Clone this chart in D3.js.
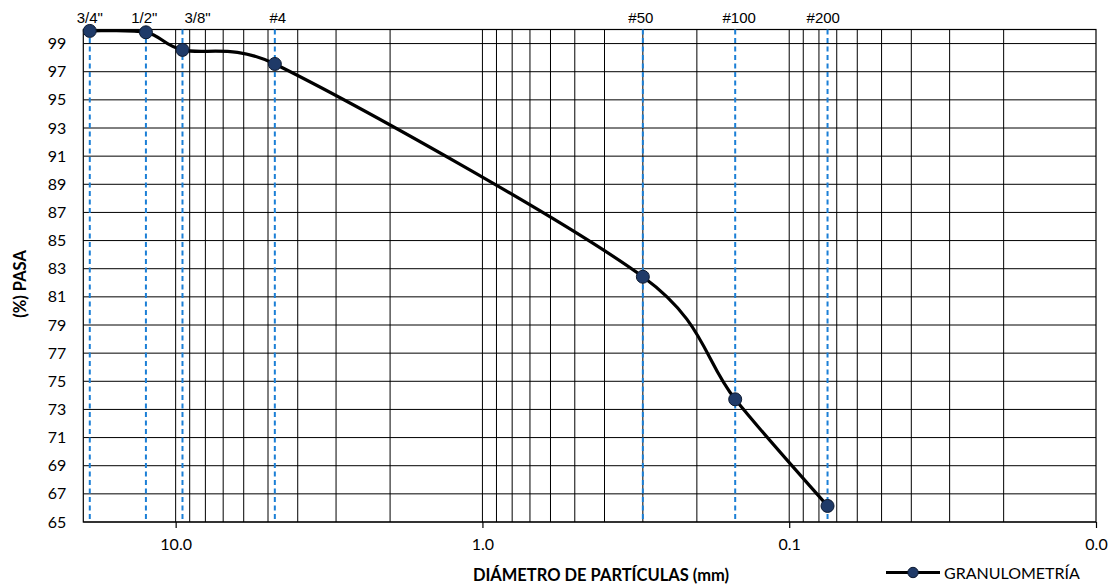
<!DOCTYPE html>
<html>
<head>
<meta charset="utf-8">
<script src="https://cdn.jsdelivr.net/npm/d3@7"></script>
<style>
  html, body { margin: 0; padding: 0; background: #fff; }
  svg { display: block; }
</style>
</head>
<body>
<svg id="chart" width="1116" height="587"></svg>
<script>
// ---- data ----
const sieves = ['3/4"', '1/2"', '3/8"', '#4', '#50', '#100', '#200'];
const diameters = [19.05, 12.5, 9.5, 4.75, 0.3, 0.15, 0.075];
const passing = [99.9, 99.8, 98.55, 97.55, 82.43, 73.72, 66.14];
const yTicks = [65, 67, 69, 71, 73, 75, 77, 79, 81, 83, 85, 87, 89, 91, 93, 95, 97, 99];
const xTicks = [10, 1, 0.1, 0.01];
const xTickLabels = ["10.0", "1.0", "0.1", "0.0"];
const xDomain = [20, 0.01];
const yDomain = [65, 100];
const seriesName = "GRANULOMETRÍA";
const xTitle = "DIÁMETRO DE PARTÍCULAS (mm)";
const yTitle = "(%) PASA";

// ---- layout ----
const W = 1116, H = 587;
const plot = { left: 83.3, right: 1096, top: 29.5, bottom: 522 };
const labelNudge = [0, -1.7, 15, 3, -2, 4, -4.3];

const svg = d3.select("#chart");
const x = d3.scaleLog().domain(xDomain).range([plot.left, plot.right]);
const y = d3.scaleLinear().domain(yDomain).range([plot.bottom, plot.top]);

const tickFont = "Lato, 'Open Sans', sans-serif";

// Excel-like smoothed line: Catmull-Rom tangents (1/6) with handle length limited to half the segment
function smoothPath(p) {
  const path = d3.path();
  path.moveTo(p[0][0], p[0][1]);
  const n = p.length;
  const tan = i => {
    const a = p[Math.max(0, i - 1)], b = p[Math.min(n - 1, i + 1)];
    return [(b[0] - a[0]) / 6, (b[1] - a[1]) / 6];
  };
  const clamp = (t, maxLen) => {
    const l = Math.hypot(t[0], t[1]);
    if (l > maxLen && l > 0) { const k = maxLen / l; return [t[0] * k, t[1] * k]; }
    return t;
  };
  for (let i = 0; i < n - 1; i++) {
    const a = p[i], b = p[i + 1];
    const seg = Math.hypot(b[0] - a[0], b[1] - a[1]);
    const t0 = clamp(tan(i), seg * 0.5), t1 = clamp(tan(i + 1), seg * 0.5);
    path.bezierCurveTo(a[0] + t0[0], a[1] + t0[1], b[0] - t1[0], b[1] - t1[1], b[0], b[1]);
  }
  return path.toString();
}

// horizontal gridlines
svg.append("g").selectAll("line").data(yTicks).join("line")
  .attr("x1", plot.left).attr("x2", plot.right)
  .attr("y1", d => y(d)).attr("y2", d => y(d))
  .attr("stroke", "#000").attr("stroke-width", 1);

// vertical gridlines (log minor + major)
const vTicks = x.ticks().filter(d => d < 20 && d > 0.01);
svg.append("g").selectAll("line").data(vTicks).join("line")
  .attr("x1", d => x(d)).attr("x2", d => x(d))
  .attr("y1", plot.top).attr("y2", plot.bottom)
  .attr("stroke", "#000").attr("stroke-width", 1);

// border
svg.append("rect")
  .attr("x", plot.left).attr("y", plot.top)
  .attr("width", plot.right - plot.left).attr("height", plot.bottom - plot.top)
  .attr("fill", "none").attr("stroke", "#000").attr("stroke-width", 1.2);

// x axis ticks
const xAxis = d3.axisBottom(x).tickValues(xTicks)
  .tickFormat((d, i) => xTickLabels[i]).tickSize(6).tickPadding(11);
const gx = svg.append("g").attr("transform", `translate(0,${plot.bottom})`).call(xAxis);
gx.select(".domain").remove();
gx.selectAll(".tick line").attr("stroke", "#000").attr("stroke-width", 1.2);
gx.selectAll(".tick text").attr("font-family", tickFont).attr("font-size", 16).attr("fill", "#000");

// y axis labels
const yAxis = d3.axisLeft(y).tickValues(yTicks).tickFormat(d3.format("d")).tickSize(0).tickPadding(17);
const gy = svg.append("g").attr("transform", `translate(${plot.left},0)`).call(yAxis);
gy.select(".domain").remove();
gy.selectAll(".tick text").attr("font-family", tickFont).attr("font-size", 16).attr("fill", "#000");

// sieve dashed lines
svg.append("g").selectAll("line").data(diameters).join("line")
  .attr("x1", d => x(d)).attr("x2", d => x(d))
  .attr("y1", plot.top).attr("y2", plot.bottom)
  .attr("stroke", "#1B7FD6").attr("stroke-width", 2)
  .attr("stroke-dasharray", "5,3.5");

// sieve labels
svg.append("g").selectAll("text").data(sieves).join("text")
  .attr("x", (d, i) => x(diameters[i]) + labelNudge[i])
  .attr("y", 23)
  .attr("text-anchor", "middle")
  .attr("font-family", "'Liberation Sans', Arial, sans-serif")
  .attr("font-size", 15)
  .attr("fill", "#000")
  .text(d => d);

// curve
const pts = diameters.map((d, i) => [x(d), y(passing[i])]);
svg.append("path")
  .attr("d", smoothPath(pts))
  .attr("fill", "none").attr("stroke", "#000").attr("stroke-width", 3.2)
  .attr("stroke-linejoin", "round");

svg.append("g").selectAll("circle").data(pts).join("circle")
  .attr("cx", d => d[0]).attr("cy", d => d[1]).attr("r", 6.5)
  .attr("fill", "#1F3A68").attr("stroke", "#0d1a30").attr("stroke-width", 1);

// axis titles
svg.append("text")
  .attr("x", 601).attr("y", 581)
  .attr("text-anchor", "middle")
  .attr("font-family", tickFont).attr("font-weight", "bold").attr("font-size", 16.5)
  .attr("fill", "#000").text(xTitle);

svg.append("text")
  .attr("transform", "translate(26,284) rotate(-90)")
  .attr("text-anchor", "middle")
  .attr("font-family", tickFont).attr("font-weight", "bold").attr("font-size", 16.5)
  .attr("fill", "#000").text(yTitle);

// legend
const lg = svg.append("g");
lg.append("line").attr("x1", 886).attr("x2", 940).attr("y1", 572.5).attr("y2", 572.5)
  .attr("stroke", "#000").attr("stroke-width", 3.2);
lg.append("circle").attr("cx", 913).attr("cy", 572.5).attr("r", 5.2)
  .attr("fill", "#1F3A68").attr("stroke", "#0d1a30").attr("stroke-width", 1);
lg.append("text").attr("x", 944).attr("y", 578.5)
  .attr("font-family", tickFont).attr("font-size", 16).attr("fill", "#000")
  .text(seriesName);
</script>
</body>
</html>
